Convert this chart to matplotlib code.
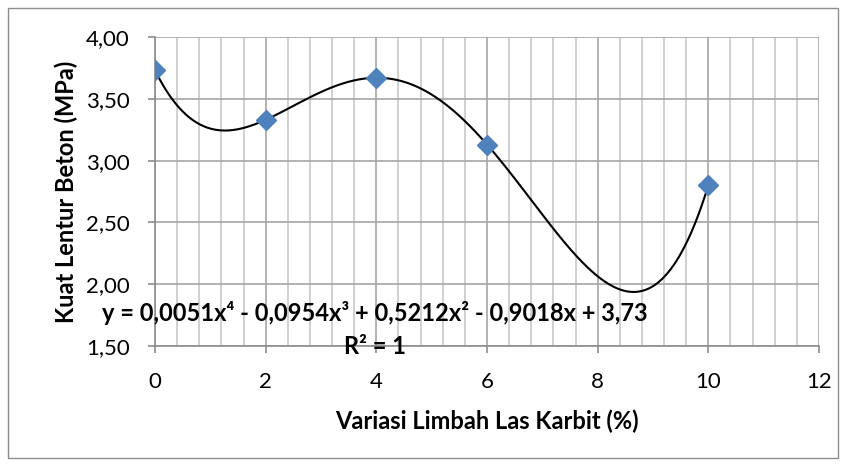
import numpy as np
import matplotlib
matplotlib.use("Agg")
import matplotlib.pyplot as plt
from matplotlib.patches import Rectangle
from matplotlib.ticker import MultipleLocator, FuncFormatter

x_vals = [0, 2, 4, 6, 10]
y_vals = [3.73, 3.33, 3.67, 3.13, 2.80]
eq_line = "y = 0,0051x\u2074 - 0,0954x\u00b3 + 0,5212x\u00b2 - 0,9018x + 3,73"
r2_line = "R\u00b2 = 1"
xlabel = "Variasi Limbah Las Karbit (%)"
ylabel = "Kuat Lentur Beton (MPa)"

plt.rcParams['font.family'] = ['Lato', 'DejaVu Sans']

fig = plt.figure(figsize=(8.46, 4.66), dpi=100)
fig.patches.append(Rectangle((8/846, 8/466), 830/846, 450/466, transform=fig.transFigure,
                             fill=False, edgecolor='#8c8c8c', linewidth=1.0))
ax = fig.add_axes([155/846, 1-346/466, (819-155)/846, (346-37)/466])

coef = np.polyfit(x_vals, y_vals, 4)
xs = np.linspace(0, 10, 400)
ax.plot(xs, np.polyval(coef, xs), color='black', linewidth=1.5, zorder=3)
ax.plot(x_vals, y_vals, linestyle='none', marker='D', markersize=10,
        color='#4F81BD', markeredgecolor='#4F81BD', zorder=4)

ax.set_xlim(0, 12)
ax.set_ylim(1.5, 4.0)
ax.xaxis.set_major_locator(MultipleLocator(2))
ax.xaxis.set_minor_locator(MultipleLocator(0.4))
ax.yaxis.set_major_locator(MultipleLocator(0.5))
ax.yaxis.set_major_formatter(FuncFormatter(lambda v, p: f"{v:.2f}".replace('.', ',')))

ax.grid(which='major', axis='both', color='#a6a6a6', linewidth=1.2, zorder=0)
ax.grid(which='minor', axis='x', color='#c8c8c8', linewidth=1.2, zorder=0)
ax.set_axisbelow(True)
for s in ['top', 'right']:
    ax.spines[s].set_visible(False)
ax.spines['left'].set_color('#8c8c8c')
ax.spines['bottom'].set_color('#8c8c8c')
ax.spines['left'].set_linewidth(1.2)
ax.spines['bottom'].set_linewidth(1.2)
ax.tick_params(axis='x', which='major', length=5, width=1.2, color='#8c8c8c', labelsize=16, pad=14)
ax.tick_params(axis='x', which='minor', length=0)
ax.tick_params(axis='y', which='major', length=5, width=1.2, color='#8c8c8c', labelsize=16, pad=13)

ax.set_xlabel(xlabel, fontsize=17, fontweight='bold', labelpad=12)
ax.set_ylabel(ylabel, fontsize=17, fontweight='bold', labelpad=6)

ax.text(375/846, 1-313/466, eq_line, transform=fig.transFigure, ha='center', va='center',
        fontsize=17, fontweight='bold', zorder=5)
ax.text(375/846, 1-346/466, r2_line, transform=fig.transFigure, ha='center', va='center',
        fontsize=17, fontweight='bold', zorder=5)

fig.savefig("out.png", dpi=100)
